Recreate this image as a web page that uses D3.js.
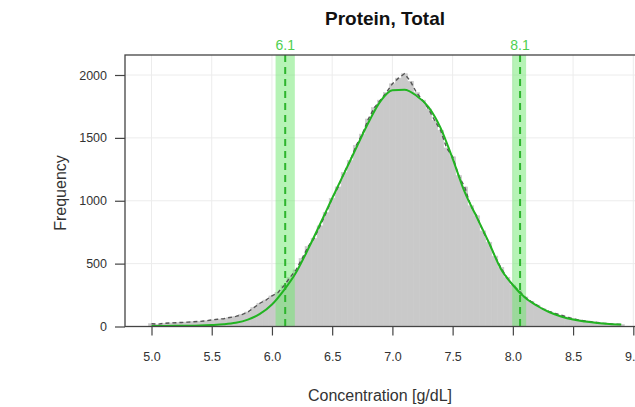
<!DOCTYPE html>
<html>
<head>
<meta charset="utf-8">
<script src="https://cdn.jsdelivr.net/npm/d3@7"></script>
<style>
  html, body { margin: 0; padding: 0; background: #fff; }
  svg { display: block; font-family: "Liberation Sans", Arial, sans-serif; }
</style>
</head>
<body>
<svg id="chart" width="635" height="407"></svg>
<script>
// Histogram of total protein results (bin midpoints every 0.05 g/dL)
const binStart = 5.0;
const binWidth = 0.05;
const binCounts = [
  22, 18, 25, 28, 30, 32, 35, 38, 40, 45,
  52, 58, 62, 72, 80, 95, 115, 150, 185, 210,
  243, 270, 325, 390, 450, 540, 635, 700, 800, 905,
  1020, 1110, 1225, 1320, 1440, 1530, 1650, 1740, 1800, 1860,
  1930, 1975, 2010, 1950, 1860, 1800, 1730, 1640, 1560, 1420,
  1350, 1200, 1110, 960, 880, 760, 670, 560, 470, 390,
  330, 285, 235, 200, 170, 140, 120, 105, 90, 75,
  62, 52, 45, 38, 32, 26, 22, 18, 15
];

// Fitted density, scaled to frequency
const fitX = [5.0, 5.1, 5.2, 5.3, 5.4, 5.5, 5.6, 5.7, 5.8, 5.9,
              6.0, 6.1, 6.2, 6.3, 6.4, 6.5, 6.6, 6.7, 6.8, 6.9,
              7.0, 7.1, 7.2, 7.3, 7.4, 7.5, 7.6, 7.7, 7.8, 7.9,
              8.0, 8.1, 8.2, 8.3, 8.4, 8.5, 8.6, 8.7, 8.8, 8.9];
const fitY = [3, 4, 5, 6, 8, 12, 18, 30, 55, 100,
              175, 290, 430, 615, 815, 1020, 1220, 1420, 1620, 1790,
              1878, 1882, 1835, 1745, 1580, 1335, 1070, 870, 670, 460,
              330, 230, 165, 115, 80, 55, 40, 28, 20, 15];

// Reference limits with their confidence bands
const refLimits = [6.11, 8.06];
const refLow = [6.03, 7.995];
const refHigh = [6.19, 8.11];

const xTicks = [5.0, 5.5, 6.0, 6.5, 7.0, 7.5, 8.0, 8.5, 9.0];
const yTicks = [0, 500, 1000, 1500, 2000];

const svg = d3.select("#chart");

const x = d3.scaleLinear().domain([5, 9]).range([151.5, 633.3]);
const y = d3.scaleLinear().domain([0, 2000]).range([326.5, 75]);

const box = { left: 125, top: 55, right: 648, bottom: 326.5 };

// grid
const grid = svg.append("g").attr("stroke", "#ececec").attr("stroke-width", 1);
grid.selectAll("line.v").data(xTicks).join("line")
  .attr("x1", d => x(d)).attr("x2", d => x(d))
  .attr("y1", box.top).attr("y2", box.bottom);
grid.selectAll("line.h").data(yTicks).join("line")
  .attr("x1", box.left).attr("x2", box.right)
  .attr("y1", d => y(d)).attr("y2", d => y(d));

// histogram bars
const bins = binCounts.map((c, i) => ({ mid: binStart + i * binWidth, count: c }));
svg.append("g").selectAll("rect").data(bins).join("rect")
  .attr("x", d => x(d.mid - binWidth / 2))
  .attr("width", d => x(d.mid + binWidth / 2) - x(d.mid - binWidth / 2))
  .attr("y", d => y(d.count))
  .attr("height", d => y(0) - y(d.count))
  .attr("fill", "#c9c9c9")
  .attr("stroke", "#c9c9c9")
  .attr("stroke-width", 0.6);

// reference bands
const bands = refLimits.map((v, i) => ({ v, lo: refLow[i], hi: refHigh[i] }));
svg.append("g").selectAll("rect").data(bands).join("rect")
  .attr("x", d => x(d.lo))
  .attr("width", d => x(d.hi) - x(d.lo))
  .attr("y", box.top)
  .attr("height", box.bottom - box.top)
  .attr("fill", "#6ee86e")
  .attr("fill-opacity", 0.5);

// frequency polygon (dashed)
svg.append("path").datum(bins)
  .attr("d", d3.line().x(d => x(d.mid)).y(d => y(d.count)))
  .attr("fill", "none")
  .attr("stroke", "#555")
  .attr("stroke-width", 1.4)
  .attr("stroke-dasharray", "4,3");

// reference limit lines
svg.append("g").selectAll("line").data(bands).join("line")
  .attr("x1", d => x(d.v)).attr("x2", d => x(d.v))
  .attr("y1", box.top).attr("y2", box.bottom)
  .attr("stroke", "#2db52d")
  .attr("stroke-width", 2)
  .attr("stroke-dasharray", "7,5");

// fitted curve
const fit = fitX.map((v, i) => [v, fitY[i]]);
svg.append("path").datum(fit)
  .attr("d", d3.line().x(d => x(d[0])).y(d => y(d[1])).curve(d3.curveMonotoneX))
  .attr("fill", "none")
  .attr("stroke", "#22b422")
  .attr("stroke-width", 2);

// limit labels above the box
const fmt = d3.format(".1f");
svg.append("g").selectAll("text").data(bands).join("text")
  .attr("x", d => x(d.v))
  .attr("y", 50)
  .attr("text-anchor", "middle")
  .attr("font-size", 14)
  .attr("fill", "#4fcf4f")
  .text(d => fmt(d.v));

// box
svg.append("rect")
  .attr("x", box.left).attr("y", box.top)
  .attr("width", box.right - box.left).attr("height", box.bottom - box.top)
  .attr("fill", "none").attr("stroke", "#444").attr("stroke-width", 1.3);

// axes
const xAxis = svg.append("g").attr("transform", `translate(0,${box.bottom})`)
  .call(d3.axisBottom(x).tickValues(xTicks).tickFormat(d3.format(".1f")).tickSize(9).tickPadding(17));
const yAxis = svg.append("g").attr("transform", `translate(${box.left},0)`)
  .call(d3.axisLeft(y).tickValues(yTicks).tickFormat(d3.format("d")).tickSize(10).tickPadding(8));
[xAxis, yAxis].forEach(a => {
  a.select(".domain").remove();
  a.selectAll(".tick line").attr("stroke", "#444").attr("stroke-width", 1.2);
  a.selectAll(".tick text").attr("fill", "#333").attr("font-size", 12.5)
    .attr("font-family", "Liberation Sans, Arial, sans-serif");
});

// titles
svg.append("text")
  .attr("x", 385).attr("y", 25)
  .attr("text-anchor", "middle")
  .attr("font-size", 19).attr("font-weight", "bold").attr("fill", "#111")
  .text("Protein, Total");
svg.append("text")
  .attr("x", 380).attr("y", 401)
  .attr("text-anchor", "middle")
  .attr("font-size", 16).attr("fill", "#333")
  .text("Concentration [g/dL]");
svg.append("text")
  .attr("transform", "translate(66,193) rotate(-90)")
  .attr("text-anchor", "middle")
  .attr("font-size", 16).attr("fill", "#333")
  .text("Frequency");
</script>
</body>
</html>
